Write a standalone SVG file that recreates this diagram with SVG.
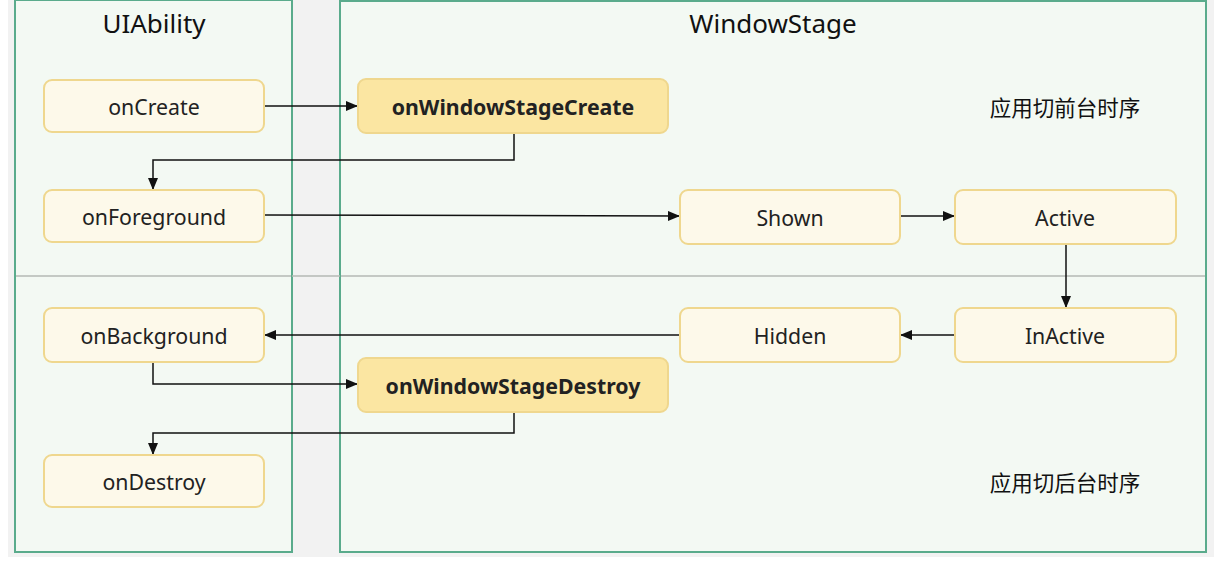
<svg xmlns="http://www.w3.org/2000/svg" width="1224" height="570" viewBox="0 0 1224 570">
<style>
.panel{fill:#f3f9f3;stroke:#5aab8c;stroke-width:2}
.node{fill:#fdf9ea;stroke:#efd78e;stroke-width:2}
.hl{fill:#fbe6a2;stroke:#efd78e;stroke-width:2}
.t{font-family:"Noto Sans","Liberation Sans",sans-serif;font-size:21.3px;fill:#222;text-anchor:middle;dominant-baseline:central}
.b{font-weight:bold}
.title{font-family:"Noto Sans","Liberation Sans",sans-serif;font-size:26px;fill:#111;text-anchor:middle;dominant-baseline:central}
.cn{font-family:"Noto Sans CJK SC",sans-serif;font-size:21.5px;fill:#111;text-anchor:middle;dominant-baseline:central}
.c{fill:none;stroke:#111;stroke-width:1.5}
</style>
<defs>
<marker id="arr" viewBox="0 0 12 10" refX="12" refY="5" markerWidth="12" markerHeight="10" markerUnits="userSpaceOnUse" orient="auto">
<path d="M0,0 L12,5 L0,10 Z" fill="#111"/>
</marker>
</defs>
<rect x="0" y="0" width="1224" height="570" fill="#ffffff"/>
<rect x="8" y="0" width="1206" height="557" fill="#f2f2f2"/>
<g id="panel-uiability">
<rect class="panel" x="15" y="0" width="277" height="552"/>
<text class="title" x="154" y="23">UIAbility</text>
</g>
<g id="panel-windowstage">
<rect class="panel" x="340" y="1" width="866" height="551"/>
<text class="title" x="773" y="23">WindowStage</text>
</g>
<g id="dividers">
<line x1="16" y1="276" x2="291" y2="276" stroke="#b5b8b5" stroke-width="1.5"/>
<line x1="292" y1="276" x2="340" y2="276" stroke="#b5b8b5" stroke-width="1.5"/>
<line x1="341" y1="276" x2="1205" y2="276" stroke="#b5b8b5" stroke-width="1.5"/>
</g>
<g id="label-front"><text class="cn" x="1065" y="106">应用切前台时序</text></g>
<g id="label-back"><text class="cn" x="1065" y="481">应用切后台时序</text></g>
<g id="connectors">
<path class="c" d="M264,106 H358" marker-end="url(#arr)"/>
<path class="c" d="M514,133 V160 H153 V190" marker-end="url(#arr)"/>
<path class="c" d="M264,215 L680,216" marker-end="url(#arr)"/>
<path class="c" d="M900,216 H955" marker-end="url(#arr)"/>
<path class="c" d="M1066,244 V308" marker-end="url(#arr)"/>
<path class="c" d="M955,335 H900" marker-end="url(#arr)"/>
<path class="c" d="M680,335 H264" marker-end="url(#arr)"/>
<path class="c" d="M153,362 V384 H358" marker-end="url(#arr)"/>
<path class="c" d="M514,412 V433 H153 V455" marker-end="url(#arr)"/>
</g>
<g id="onCreate"><rect class="node" x="44" y="80" width="220" height="52" rx="8"/><text class="t" x="154" y="106">onCreate</text></g>
<g id="onWindowStageCreate"><rect class="hl" x="358" y="79" width="310" height="54" rx="8"/><text class="t b" x="513" y="106">onWindowStageCreate</text></g>
<g id="onForeground"><rect class="node" x="44" y="190" width="220" height="52" rx="8"/><text class="t" x="154" y="216">onForeground</text></g>
<g id="Shown"><rect class="node" x="680" y="190" width="220" height="54" rx="8"/><text class="t" x="790" y="217">Shown</text></g>
<g id="Active"><rect class="node" x="955" y="190" width="221" height="54" rx="8"/><text class="t" x="1065" y="217">Active</text></g>
<g id="onBackground"><rect class="node" x="44" y="308" width="220" height="54" rx="8"/><text class="t" x="154" y="335">onBackground</text></g>
<g id="Hidden"><rect class="node" x="680" y="308" width="220" height="54" rx="8"/><text class="t" x="790" y="335">Hidden</text></g>
<g id="InActive"><rect class="node" x="955" y="308" width="221" height="54" rx="8"/><text class="t" x="1065" y="335">InActive</text></g>
<g id="onWindowStageDestroy"><rect class="hl" x="358" y="358" width="310" height="54" rx="8"/><text class="t b" x="513" y="385">onWindowStageDestroy</text></g>
<g id="onDestroy"><rect class="node" x="44" y="455" width="220" height="52" rx="8"/><text class="t" x="154" y="481">onDestroy</text></g>
</svg>
